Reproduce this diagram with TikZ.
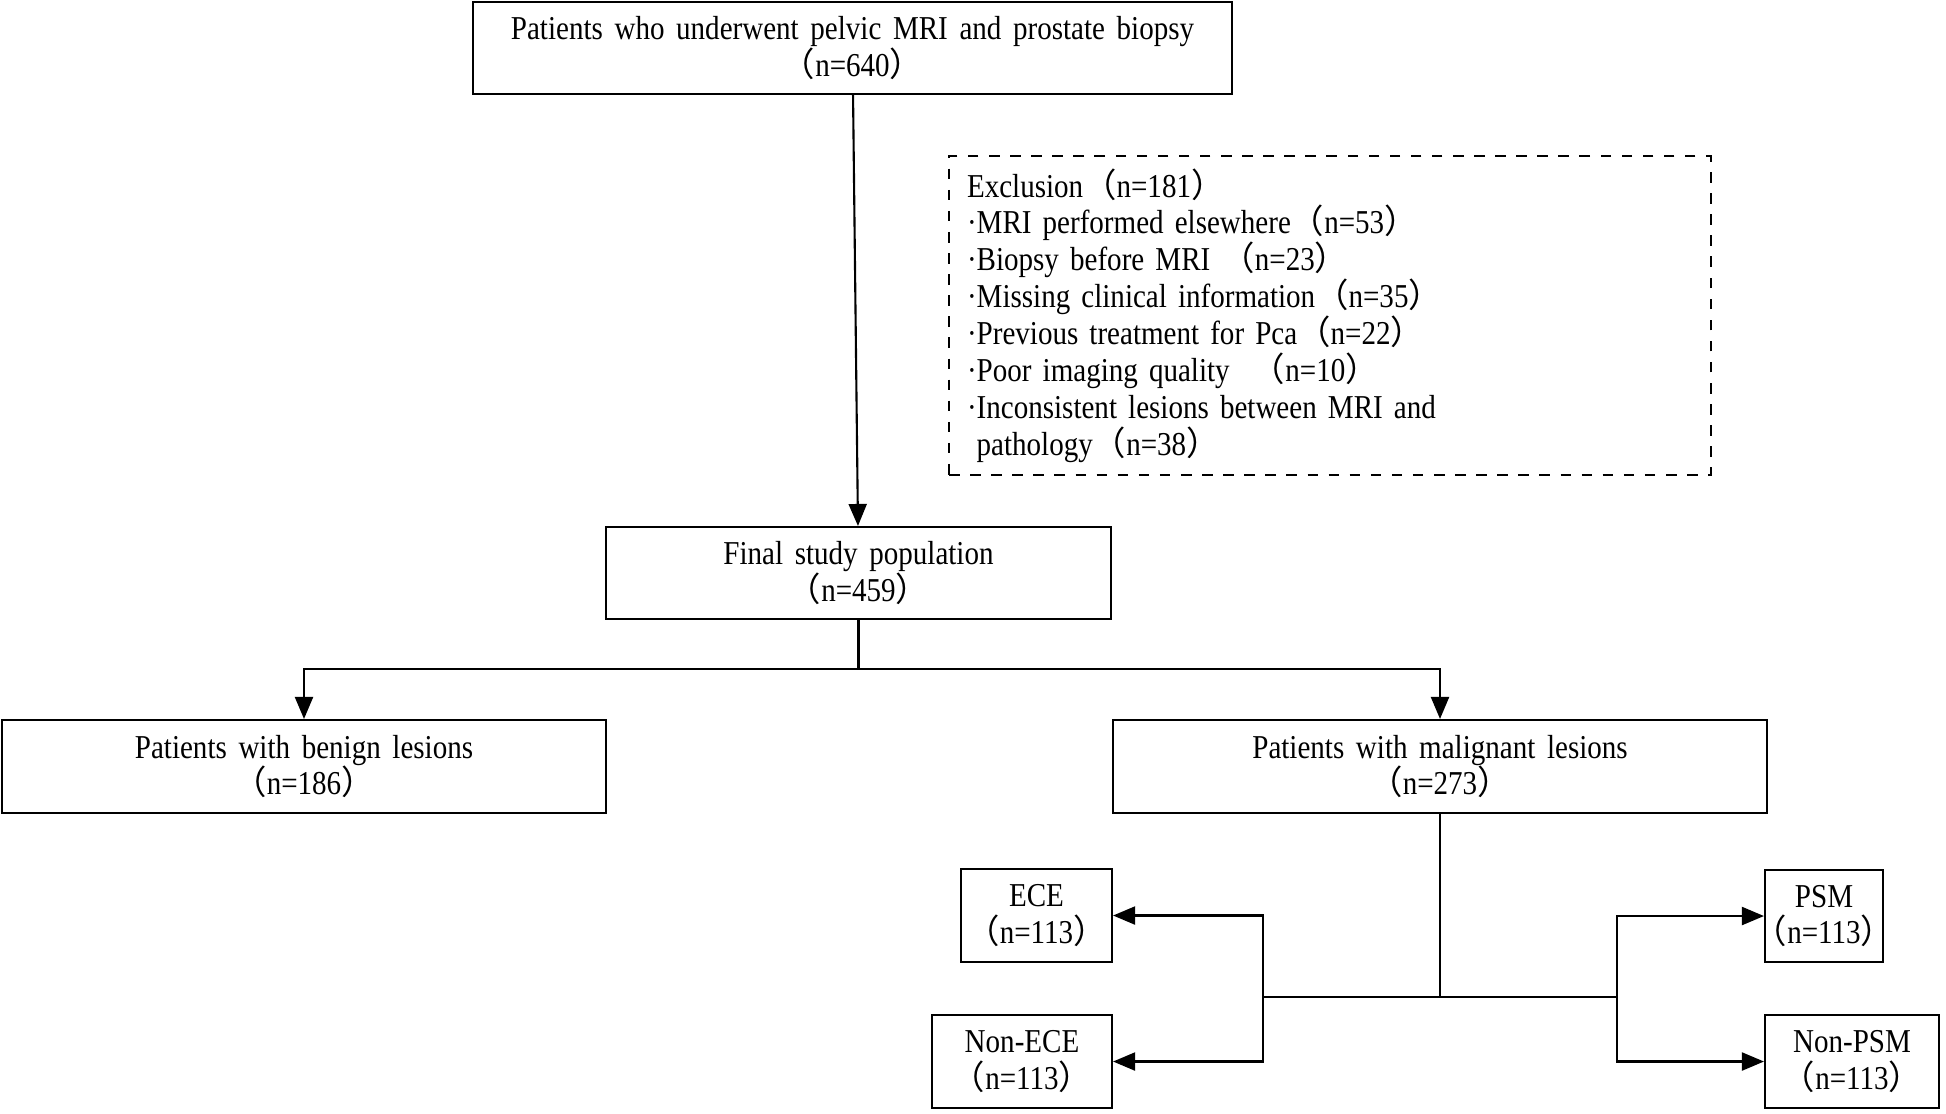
\documentclass[tikz,border=0pt]{standalone}
\usepackage{fontspec}
\setmainfont{Liberation Serif}[FakeStretch=0.87,WordSpace=1.6]
\newfontfamily\cjk{Noto Sans CJK SC}
\usepackage{tikz}
\usetikzlibrary{arrows.meta, positioning}
\newcommand{\lpar}{{\cjk （}}
\newcommand{\rpar}{{\cjk ）}}
% tight versions for the small boxes
\newcommand{\tlpar}{\makebox[0.55em][r]{\cjk （}}
\newcommand{\trpar}{\makebox[0.55em][l]{\cjk ）}}

\begin{document}
\begin{tikzpicture}[line width=0.6pt,
            font=\fontsize{9.5}{10.5}\selectfont,
            flowbox/.style = {draw, rectangle, align=center,
                inner sep=0pt, minimum height=0.93cm},
            flowarrow/.style = {-{Triangle[length=2.2mm,width=1.8mm]}}]

        \useasboundingbox (0,0) rectangle (19.46,-11.13);

        % Top box
        \node[flowbox, minimum width=7.59cm, minimum height=0.92cm] (all) at (8.525,-0.48)
            {Patients  who underwent  pelvic  MRI and prostate biopsy\\ \lpar n=640\rpar};

        % Exclusion box
        \node[draw, dashed, rectangle, align=left, inner xsep=0.18cm, inner ysep=0pt,
              text width=7.26cm, minimum height=3.19cm] (excl) at (13.30,-3.155)
            {Exclusion\lpar n=181\rpar\\
             ·MRI performed  elsewhere\lpar n=53\rpar\\
             ·Biopsy  before MRI \lpar n=23\rpar\\
             ·Missing  clinical  information\lpar n=35\rpar\\
             ·Previous  treatment  for  Pca\lpar n=22\rpar\\
             ·Poor imaging  quality \ \lpar n=10\rpar\\
             ·Inconsistent  lesions  between  MRI and\\
             \phantom{·}pathology\lpar n=38\rpar};

        % Final population
        \node[flowbox, minimum width=5.05cm, minimum height=0.92cm] (final) at (8.585,-5.73)
            {Final  study  population\\ \lpar n=459\rpar};

        % Benign / malignant
        \node[flowbox, minimum width=6.04cm] (benign) at (3.04,-7.665)
            {Patients  with  benign  lesions\\ \lpar n=186\rpar};
        \node[flowbox, minimum width=6.54cm] (malig) at (14.40,-7.665)
            {Patients  with  malignant  lesions\\ \lpar n=273\rpar};

        % Sub groups
        \node[flowbox, minimum width=1.51cm] (ece) at (10.365,-9.155) {ECE\\ \tlpar n=113\trpar};
        \node[flowbox, minimum width=1.80cm] (nonece) at (10.22,-10.615) {Non-ECE\\ \tlpar n=113\trpar};
        \node[flowbox, minimum width=1.18cm, minimum height=0.92cm] (psm) at (18.24,-9.16) {PSM\\ \tlpar n=113\trpar};
        \node[flowbox, minimum width=1.74cm] (nonpsm) at (18.52,-10.615) {Non-PSM\\ \tlpar n=113\trpar};

        % Connectors
        \coordinate (split) at (final.south |- 0,-6.69);
        \coordinate (msplit) at (malig.south |- 0,-9.97);
        \coordinate (left) at (12.63,-9.97);
        \coordinate (right) at (16.17,-9.97);

        \draw[flowarrow] (all) -- (final);
        \draw (final.south) -- (split);
        \draw[flowarrow] (split) -| (benign.north);
        \draw[flowarrow] (split) -| (malig.north);

        \draw (malig.south) -- (msplit);
        \draw (left) -- (right);
        \draw[flowarrow] (left) |- (ece.east);
        \draw[flowarrow] (left) |- (nonece.east);
        \draw[flowarrow] (right) |- (psm.west);
        \draw[flowarrow] (right) |- (nonpsm.west);

\end{tikzpicture}
\end{document}
